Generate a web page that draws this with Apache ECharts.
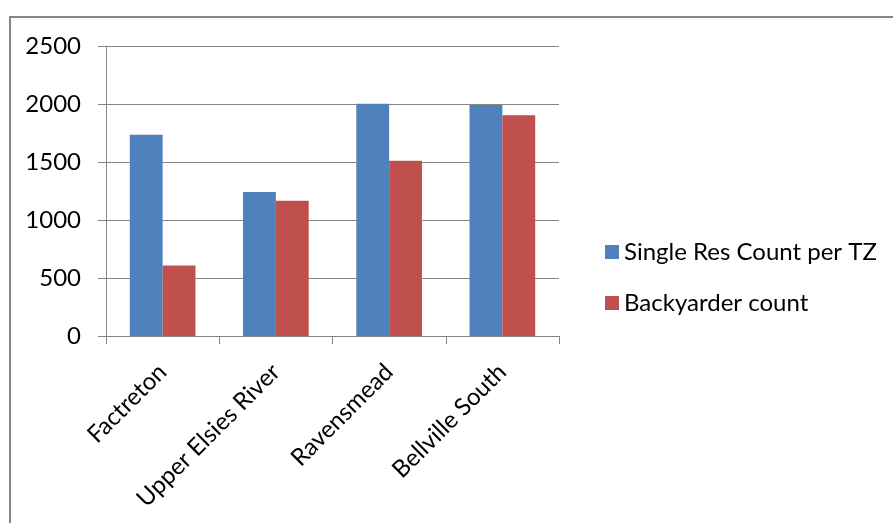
<!DOCTYPE html>
<html>
<head>
<meta charset="utf-8">
<script src="https://cdn.jsdelivr.net/npm/echarts@6/dist/echarts.min.js"></script>
<style>html,body{margin:0;padding:0;background:#fff;}#c{width:893px;height:523px;}</style>
</head>
<body>
<div id="c"></div>
<script>
const categories = ["Factreton", "Upper Elsies River", "Ravensmead", "Bellville South"];
const singleRes = [1735, 1242, 2002, 1992];
const backyarder = [607, 1165, 1510, 1903];
const seriesNames = ["Single Res Count per TZ", "Backyarder count"];
const yTicks = { min: 0, max: 2500, interval: 500 };

const chart = echarts.init(document.getElementById('c'), null, { renderer: 'canvas' });
const FONT = 'Lato, "Liberation Sans", Arial, sans-serif';
const GRAY = '#868686';
chart.setOption({
  animation: false,
  backgroundColor: '#ffffff',
  graphic: [{
    type: 'rect', shape: { x: 10, y: 17, width: 900, height: 520 },
    style: { fill: 'none', stroke: GRAY, lineWidth: 2 }, silent: true
  }],
  grid: { left: 106, right: 334, top: 46, bottom: 187 },
  legend: {
    orient: 'vertical', left: 600, top: 235,
    itemWidth: 14, itemHeight: 14, itemGap: 27,
    icon: 'rect',
    textStyle: { fontFamily: FONT, fontSize: 24, color: '#000' },
    data: seriesNames
  },
  xAxis: {
    type: 'category', data: categories,
    axisLine: { lineStyle: { color: GRAY, width: 1 } },
    axisTick: { show: true, length: 8, lineStyle: { color: GRAY } },
    axisLabel: { rotate: 45, fontFamily: FONT, fontSize: 24, color: '#000', margin: 32, interval: 0 }
  },
  yAxis: {
    type: 'value', min: yTicks.min, max: yTicks.max, interval: yTicks.interval,
    axisLine: { show: true, lineStyle: { color: GRAY, width: 1 } },
    axisTick: { show: true, length: 8, inside: false, lineStyle: { color: GRAY, width: 1 } },
    splitLine: { show: true, lineStyle: { color: GRAY, width: 1 } },
    axisLabel: { fontFamily: FONT, fontSize: 24, color: '#000', margin: 25,
      formatter: function (v) { return String(v); } }
  },
  series: [
    { name: seriesNames[0], type: 'bar', data: singleRes, barGap: '0%', barCategoryGap: '42%',
      itemStyle: { color: '#4F81BD' } },
    { name: seriesNames[1], type: 'bar', data: backyarder, barGap: '0%', barCategoryGap: '42%',
      itemStyle: { color: '#C0504D' } }
  ]
});
</script>
</body>
</html>
